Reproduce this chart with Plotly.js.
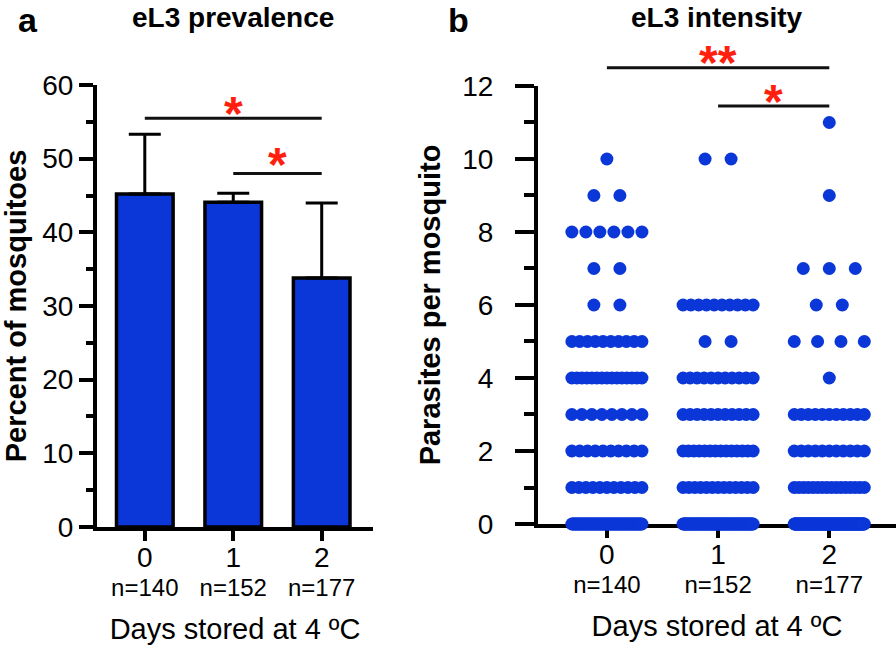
<!DOCTYPE html>
<html>
<head>
<meta charset="utf-8">
<script src="https://cdn.plot.ly/plotly-3.0.1.min.js"></script>
<style>
  body { margin: 0; padding: 0; background: #fff; }
  #plot { width: 896px; height: 647px; }
</style>
</head>
<body>
<div id="plot"></div>
<script>
// values
var days = [0, 1, 2];
var dayLabels = ['0', '1', '2'];
var nMosq = [140, 152, 177];

// panel a: eL3 prevalence (%), upper error only
var prevalence = [45.2, 44.1, 33.8];
var prevalenceErr = [8.1, 1.2, 10.2];

// panel b: how many mosquitoes carried 0,1,2...11 parasites
var parasiteValues = [0, 1, 2, 3, 4, 5, 6, 7, 8, 9, 10, 11];
var countsDay0 = [73, 11, 10, 8, 15, 10, 2, 2, 6, 2, 1, 0];
var countsDay1 = [89, 13, 14, 11, 11, 2, 10, 0, 0, 0, 2, 0];
var countsDay2 = [127, 16, 11, 11, 1, 4, 2, 3, 0, 1, 0, 1];

// significance brackets (line height, star height)
var sigA = [
  {from: 0, to: 2, y: 55.5, starY: 57.5, label: '*'},
  {from: 1, to: 2, y: 48.0, starY: 50.6, label: '*'}
];
var sigB = [
  {from: 0, to: 2, y: 12.5, starY: 12.93, label: '**'},
  {from: 1, to: 2, y: 11.45, starY: 11.84, label: '*'}
];

var FONT = 'Arial, "Liberation Sans", sans-serif';
var BLUE = '#0b37d8';
var RED = '#ff1f0f';

var domAx = [0.1083, 0.4163], domAy = [0.1855, 0.8686];
var rngAx = [-0.54, 2.58], rngAy = [0, 60];
var domBx = [0.6004, 1.0], domBy = [0.1901, 0.8671];
var rngBx = [-0.62, 2.60], rngBy = [0, 12];

function toPaper(dom, rng, v) {
  return dom[0] + (v - rng[0]) / (rng[1] - rng[0]) * (dom[1] - dom[0]);
}

// prism-like spreading of dots in a row
var halfW = 0.315, maxStep = 0.234;
function spread(group, counts) {
  var xs = [], ys = [];
  for (var k = 0; k < counts.length; k++) {
    var c = counts[k];
    if (!c) continue;
    var step = c > 1 ? Math.min(maxStep, 2 * halfW / (c - 1)) : 0;
    for (var i = 0; i < c; i++) {
      xs.push(group + (i - (c - 1) / 2) * step);
      ys.push(parasiteValues[k]);
    }
  }
  return {x: xs, y: ys};
}

var tickText = [];
for (var i = 0; i < days.length; i++) {
  tickText.push("<span style='font-size:28px'>" + dayLabels[i] + "</span><br><span style='font-size:24px'>n=" + nMosq[i] + "</span>");
}

var bars = {
  type: 'bar',
  x: days,
  y: prevalence,
  width: 0.64,
  marker: {color: BLUE, line: {color: 'black', width: 3.5}},
  error_y: {type: 'data', symmetric: false, array: prevalenceErr, arrayminus: [0, 0, 0],
            color: 'black', thickness: 3, width: 16},
  xaxis: 'x', yaxis: 'y',
  hoverinfo: 'skip'
};

var data = [bars];
var allCounts = [countsDay0, countsDay1, countsDay2];
for (var g = 0; g < days.length; g++) {
  var pts = spread(days[g], allCounts[g]);
  data.push({
    type: 'scatter', mode: 'markers',
    x: pts.x, y: pts.y,
    marker: {color: BLUE, size: 13},
    cliponaxis: false,
    xaxis: 'x2', yaxis: 'y2',
    hoverinfo: 'skip'
  });
}

var shapes = [], annotations = [];
function addSig(list, domX, rngX, domY, rngY) {
  list.forEach(function (s) {
    var yp = toPaper(domY, rngY, s.y);
    shapes.push({type: 'line', xref: 'paper', yref: 'paper',
      x0: toPaper(domX, rngX, s.from), x1: toPaper(domX, rngX, s.to),
      y0: yp, y1: yp, line: {color: '#111', width: 3}});
    annotations.push({xref: 'paper', yref: 'paper',
      x: toPaper(domX, rngX, (s.from + s.to) / 2), y: toPaper(domY, rngY, s.starY),
      text: '<b>' + s.label + '</b>', showarrow: false,
      xanchor: 'center', yanchor: 'middle', yshift: -10,
      font: {family: FONT, size: 48, color: RED}});
  });
}
addSig(sigA, domAx, rngAx, domAy, rngAy);
addSig(sigB, domBx, rngBx, domBy, rngBy);

function label(x, y, text, size, anchor) {
  annotations.push({xref: 'paper', yref: 'paper', x: x / 896, y: 1 - y / 647, text: '<b>' + text + '</b>',
    showarrow: false, xanchor: 'center', yanchor: anchor, borderpad: 0,
    font: {family: FONT, size: size, color: 'black'}});
}
label(28, 0, 'a', 34, 'top');
label(458, 0, 'b', 34, 'top');
label(233, 17, 'eL3 prevalence', 28, 'middle');
label(717, 17, 'eL3 intensity', 28, 'middle');

function xAxis(dom, rng, anchor) {
  return {
    domain: dom, range: rng, anchor: anchor,
    tickmode: 'array', tickvals: days, ticktext: tickText,
    ticks: 'outside', ticklen: 10, tickwidth: 4, tickcolor: 'black',
    showline: true, linewidth: 4, linecolor: 'black',
    showgrid: false, zeroline: false, fixedrange: true,
    layer: 'below traces',
    tickfont: {family: FONT, size: 22, color: 'black'},
    title: {text: 'Days stored at 4 ºC', standoff: 20, font: {family: FONT, size: 29, color: 'black'}}
  };
}
function yAxis(dom, rng, anchor, dtick, len, title, standoff, labelOff) {
  return {
    domain: dom, range: rng, anchor: anchor,
    tickmode: 'linear', tick0: 0, dtick: dtick,
    ticks: 'outside', ticklen: len, tickwidth: 4, tickcolor: 'black',
    minor: {tick0: 0, dtick: dtick / 2, ticks: 'outside', ticklen: len / 2, tickwidth: 4, tickcolor: 'black'},
    ticklabelstandoff: labelOff,
    showline: true, linewidth: 4, linecolor: 'black',
    showgrid: false, zeroline: false, fixedrange: true,
    tickfont: {family: FONT, size: 28, color: 'black'},
    title: {text: '<b>' + title + '</b>', standoff: standoff, font: {family: FONT, size: 29, color: 'black'}}
  };
}

var layout = {
  width: 896, height: 647,
  margin: {l: 0, r: 0, t: 0, b: 0},
  paper_bgcolor: 'white', plot_bgcolor: 'white',
  showlegend: false,
  xaxis: xAxis(domAx, rngAx, 'y'),
  yaxis: yAxis(domAy, rngAy, 'x', 10, 14, 'Percent of mosquitoes', 14, 0),
  xaxis2: xAxis(domBx, rngBx, 'y2'),
  yaxis2: yAxis(domBy, rngBy, 'x2', 2, 19, 'Parasites per mosquito', 14, 16),
  shapes: shapes,
  annotations: annotations
};

Plotly.newPlot('plot', data, layout, {displayModeBar: false, staticPlot: true});
</script>
</body>
</html>
